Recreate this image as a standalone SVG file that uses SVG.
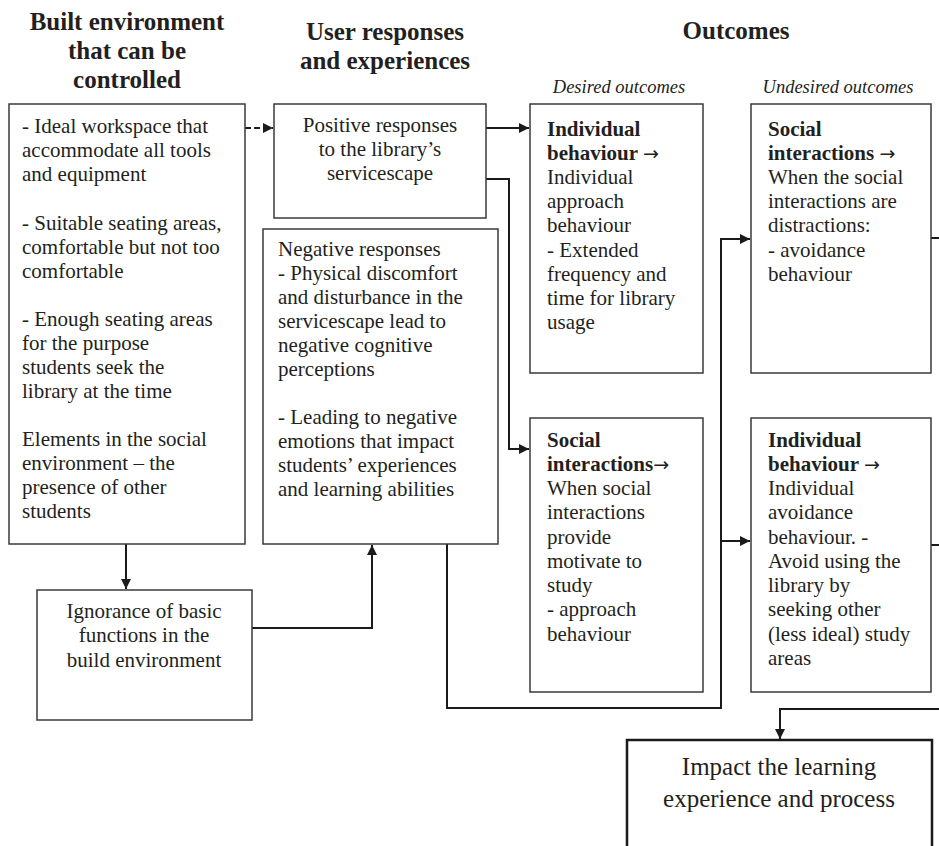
<svg xmlns="http://www.w3.org/2000/svg" width="939" height="846" viewBox="0 0 939 846">
<style>
text{font-family:"Liberation Serif","Times New Roman",serif;fill:#231f20}
.h{font-size:25px;font-weight:bold;text-anchor:middle}
.s{font-size:18.5px;font-style:italic;text-anchor:middle}
.t{font-size:21px}
.c{text-anchor:middle}
.b{font-weight:bold}
.ar{font-family:"DejaVu Sans",sans-serif;font-weight:normal;font-size:19px}
.box{fill:#fff;stroke:#3a3a3a;stroke-width:1.5}
.con{fill:none;stroke:#1a1a1a;stroke-width:2}
</style>
<defs>
<marker id="ah" viewBox="0 0 10 10" refX="10" refY="5" markerWidth="10" markerHeight="10" markerUnits="userSpaceOnUse" orient="auto">
<path d="M0,0 L10,5 L0,10 Z" fill="#1a1a1a"/>
</marker>
</defs>
<g id="headers">
<text class="h" x="127" y="30">Built environment</text>
<text class="h" x="127" y="59">that can be</text>
<text class="h" x="127" y="88">controlled</text>
<text class="h" x="385" y="40">User responses</text>
<text class="h" x="385" y="69">and experiences</text>
<text class="h" x="736" y="39">Outcomes</text>
<text class="s" x="619" y="93">Desired outcomes</text>
<text class="s" x="838" y="93">Undesired outcomes</text>
</g>
<g id="connectors">
<path class="con" d="M245,128 H273" stroke-dasharray="6,3" marker-end="url(#ah)"/>
<path class="con" d="M486,128 H529" marker-end="url(#ah)"/>
<path class="con" d="M486,179 H509 V449 H529" marker-end="url(#ah)"/>
<path class="con" d="M447,544 V708 H721 V239 H750" marker-end="url(#ah)"/>
<path class="con" d="M721,541 H750" marker-end="url(#ah)"/>
<path class="con" d="M931,238 H940"/>
<path class="con" d="M931,545 H940"/>
<path class="con" d="M940,709 H780 V739" marker-end="url(#ah)"/>
<path class="con" d="M126,544 V589" marker-end="url(#ah)"/>
<path class="con" d="M252,628 H372 V545" marker-end="url(#ah)"/>
</g>
<g id="built-environment">
<rect class="box" x="9" y="104" width="236" height="440"/>
<text class="t" x="22" y="133">- Ideal workspace that</text>
<text class="t" x="22" y="157">accommodate all tools</text>
<text class="t" x="22" y="181">and equipment</text>
<text class="t" x="22" y="230">- Suitable seating areas,</text>
<text class="t" x="22" y="254">comfortable but not too</text>
<text class="t" x="22" y="278">comfortable</text>
<text class="t" x="22" y="326">- Enough seating areas</text>
<text class="t" x="22" y="350">for the purpose</text>
<text class="t" x="22" y="374">students seek the</text>
<text class="t" x="22" y="398">library at the time</text>
<text class="t" x="22" y="446">Elements in the social</text>
<text class="t" x="22" y="470">environment – the</text>
<text class="t" x="22" y="494">presence of other</text>
<text class="t" x="22" y="518">students</text>
</g>
<g id="ignorance">
<rect class="box" x="37" y="590" width="215" height="130"/>
<text class="t c" x="144" y="618">Ignorance of basic</text>
<text class="t c" x="144" y="642">functions in the</text>
<text class="t c" x="144" y="667">build environment</text>
</g>
<g id="positive">
<rect class="box" x="274" y="104" width="212" height="114"/>
<text class="t c" x="380" y="132">Positive responses</text>
<text class="t c" x="380" y="156">to the library’s</text>
<text class="t c" x="380" y="180">servicescape</text>
</g>
<g id="negative">
<rect class="box" x="263" y="229" width="235" height="315"/>
<text class="t" x="278" y="256">Negative responses</text>
<text class="t" x="278" y="280">- Physical discomfort</text>
<text class="t" x="278" y="304">and disturbance in the</text>
<text class="t" x="278" y="328">servicescape lead to</text>
<text class="t" x="278" y="352">negative cognitive</text>
<text class="t" x="278" y="376">perceptions</text>
<text class="t" x="278" y="424">- Leading to negative</text>
<text class="t" x="278" y="448">emotions that impact</text>
<text class="t" x="278" y="472">students’ experiences</text>
<text class="t" x="278" y="496">and learning abilities</text>
</g>
<g id="desired-individual">
<rect class="box" x="530" y="104" width="173" height="269"/>
<text class="t b" x="547" y="136">Individual</text>
<text class="t b" x="547" y="160">behaviour <tspan class="ar">→</tspan></text>
<text class="t" x="547" y="184">Individual</text>
<text class="t" x="547" y="208">approach</text>
<text class="t" x="547" y="232">behaviour</text>
<text class="t" x="547" y="257">- Extended</text>
<text class="t" x="547" y="281">frequency and</text>
<text class="t" x="547" y="305">time for library</text>
<text class="t" x="547" y="329">usage</text>
</g>
<g id="desired-social">
<rect class="box" x="530" y="418" width="173" height="274"/>
<text class="t b" x="547" y="447">Social</text>
<text class="t b" x="547" y="471">interactions<tspan class="ar">→</tspan></text>
<text class="t" x="547" y="495">When social</text>
<text class="t" x="547" y="519">interactions</text>
<text class="t" x="547" y="544">provide</text>
<text class="t" x="547" y="568">motivate to</text>
<text class="t" x="547" y="592">study</text>
<text class="t" x="547" y="616">- approach</text>
<text class="t" x="547" y="641">behaviour</text>
</g>
<g id="undesired-social">
<rect class="box" x="751" y="104" width="180" height="269"/>
<text class="t b" x="768" y="136">Social</text>
<text class="t b" x="768" y="160">interactions <tspan class="ar">→</tspan></text>
<text class="t" x="768" y="184">When the social</text>
<text class="t" x="768" y="208">interactions are</text>
<text class="t" x="768" y="232">distractions:</text>
<text class="t" x="768" y="257">- avoidance</text>
<text class="t" x="768" y="281">behaviour</text>
</g>
<g id="undesired-individual">
<rect class="box" x="751" y="418" width="180" height="274"/>
<text class="t b" x="768" y="447">Individual</text>
<text class="t b" x="768" y="471">behaviour <tspan class="ar">→</tspan></text>
<text class="t" x="768" y="495">Individual</text>
<text class="t" x="768" y="519">avoidance</text>
<text class="t" x="768" y="544">behaviour. -</text>
<text class="t" x="768" y="568">Avoid using the</text>
<text class="t" x="768" y="592">library by</text>
<text class="t" x="768" y="616">seeking other</text>
<text class="t" x="768" y="641">(less ideal) study</text>
<text class="t" x="768" y="665">areas</text>
</g>
<g id="impact">
<rect x="627" y="740" width="305" height="130" fill="#fff" stroke="#1a1a1a" stroke-width="2.5"/>
<text class="c" x="779" y="775" font-size="25">Impact the learning</text>
<text class="c" x="779" y="807" font-size="25">experience and process</text>
</g>
</svg>
